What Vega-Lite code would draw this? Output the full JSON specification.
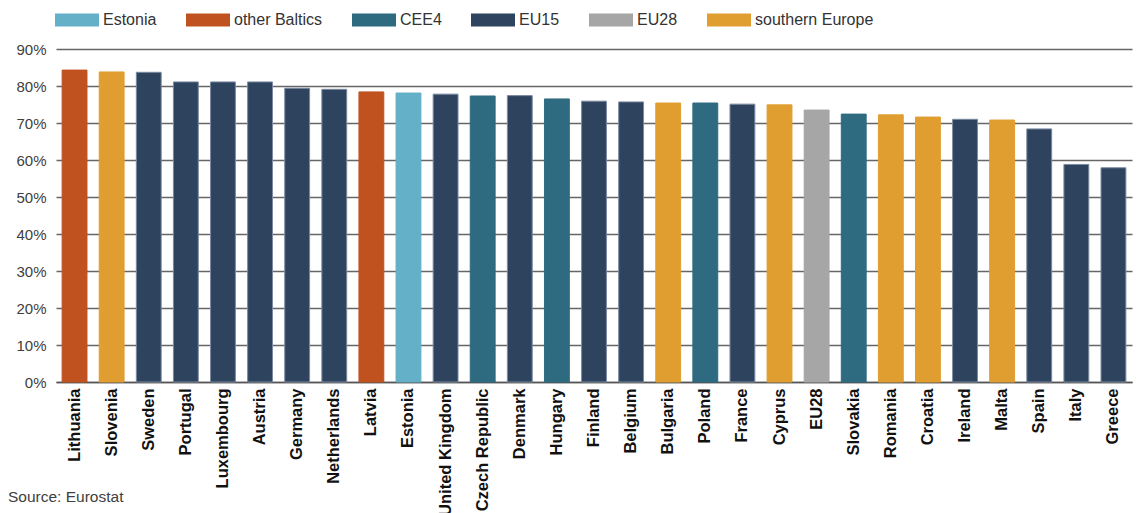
{
  "$schema": "https://vega.github.io/schema/vega-lite/v6.json",
  "width": 1076,
  "height": 333,
  "autosize": {"type": "none"},
  "padding": {"left": 56, "top": 49, "right": 12, "bottom": 131},
  "background": "white",
  "title": {
    "text": "Source: Eurostat",
    "orient": "top",
    "anchor": "start",
    "frame": "group",
    "dx": -48,
    "dy": 511,
    "font": "Liberation Sans",
    "fontSize": 15.5,
    "fontWeight": "normal",
    "color": "#404040"
  },
  "data": {
    "values": [
      {"country": "Lithuania", "group": "other Baltics", "rate": 0.843},
      {"country": "Slovenia", "group": "southern Europe", "rate": 0.838},
      {"country": "Sweden", "group": "EU15", "rate": 0.837},
      {"country": "Portugal", "group": "EU15", "rate": 0.811},
      {"country": "Luxembourg", "group": "EU15", "rate": 0.811},
      {"country": "Austria", "group": "EU15", "rate": 0.811},
      {"country": "Germany", "group": "EU15", "rate": 0.794},
      {"country": "Netherlands", "group": "EU15", "rate": 0.791},
      {"country": "Latvia", "group": "other Baltics", "rate": 0.784},
      {"country": "Estonia", "group": "Estonia", "rate": 0.781},
      {"country": "United Kingdom", "group": "EU15", "rate": 0.778},
      {"country": "Czech Republic", "group": "CEE4", "rate": 0.773},
      {"country": "Denmark", "group": "EU15", "rate": 0.774},
      {"country": "Hungary", "group": "CEE4", "rate": 0.765},
      {"country": "Finland", "group": "EU15", "rate": 0.759},
      {"country": "Belgium", "group": "EU15", "rate": 0.757},
      {"country": "Bulgaria", "group": "southern Europe", "rate": 0.754},
      {"country": "Poland", "group": "CEE4", "rate": 0.754},
      {"country": "France", "group": "EU15", "rate": 0.751},
      {"country": "Cyprus", "group": "southern Europe", "rate": 0.749},
      {"country": "EU28", "group": "EU28", "rate": 0.735},
      {"country": "Slovakia", "group": "CEE4", "rate": 0.724},
      {"country": "Romania", "group": "southern Europe", "rate": 0.722},
      {"country": "Croatia", "group": "southern Europe", "rate": 0.716},
      {"country": "Ireland", "group": "EU15", "rate": 0.710},
      {"country": "Malta", "group": "southern Europe", "rate": 0.708},
      {"country": "Spain", "group": "EU15", "rate": 0.684},
      {"country": "Italy", "group": "EU15", "rate": 0.588},
      {"country": "Greece", "group": "EU15", "rate": 0.579}
    ]
  },
  "mark": {"type": "bar", "strokeWidth": 1},
  "encoding": {
    "x": {
      "field": "country",
      "type": "nominal",
      "sort": null,
      "scale": {"paddingInner": 0.33, "paddingOuter": 0.165},
      "axis": {
        "title": null,
        "labelAngle": 270,
        "labelAlign": "right",
        "labelBaseline": "middle",
        "labelFont": "Liberation Sans",
        "labelFontSize": 16.5,
        "labelFontWeight": "bold",
        "labelColor": "#111111",
        "labelPadding": 6,
        "labelLimit": 300,
        "ticks": false,
        "domain": true,
        "domainColor": "#555555",
        "domainWidth": 1.5,
        "grid": false
      }
    },
    "y": {
      "field": "rate",
      "type": "quantitative",
      "scale": {"domain": [0, 0.9], "nice": false},
      "axis": {
        "title": null,
        "format": ".0%",
        "values": [0, 0.1, 0.2, 0.3, 0.4, 0.5, 0.6, 0.7, 0.8, 0.9],
        "labelFont": "Liberation Sans",
        "labelFontSize": 15,
        "labelColor": "#404040",
        "labelPadding": 10,
        "ticks": false,
        "domain": false,
        "grid": true,
        "gridColor": "#666666",
        "gridWidth": 1.5
      }
    },
    "color": {
      "field": "group",
      "type": "nominal",
      "scale": {
        "domain": ["Estonia", "other Baltics", "CEE4", "EU15", "EU28", "southern Europe"],
        "range": ["#63b0c8", "#c05220", "#2e6b80", "#2e445e", "#a6a6a6", "#e09e30"]
      },
      "legend": {
        "title": null,
        "orient": "none",
        "direction": "horizontal",
        "legendX": -1,
        "legendY": -51,
        "symbolType": "M-1,-0.3L1,-0.3L1,0.3L-1,0.3Z",
        "symbolSize": 1936,
        "symbolStrokeWidth": 0,
        "symbolOpacity": 1,
        "labelFont": "Liberation Sans",
        "labelFontSize": 16,
        "labelColor": "#333333",
        "labelOffset": 4,
        "columnPadding": 29
      }
    },
    "stroke": {
      "field": "group",
      "type": "nominal",
      "scale": {
        "domain": ["Estonia", "other Baltics", "CEE4", "EU15", "EU28", "southern Europe"],
        "range": ["#63b0c8", "#c05220", "#2e6b80", "#7b8aa0", "#a6a6a6", "#e09e30"]
      },
      "legend": null
    }
  },
  "config": {
    "view": {"stroke": null},
    "font": "Liberation Sans"
  }
}
